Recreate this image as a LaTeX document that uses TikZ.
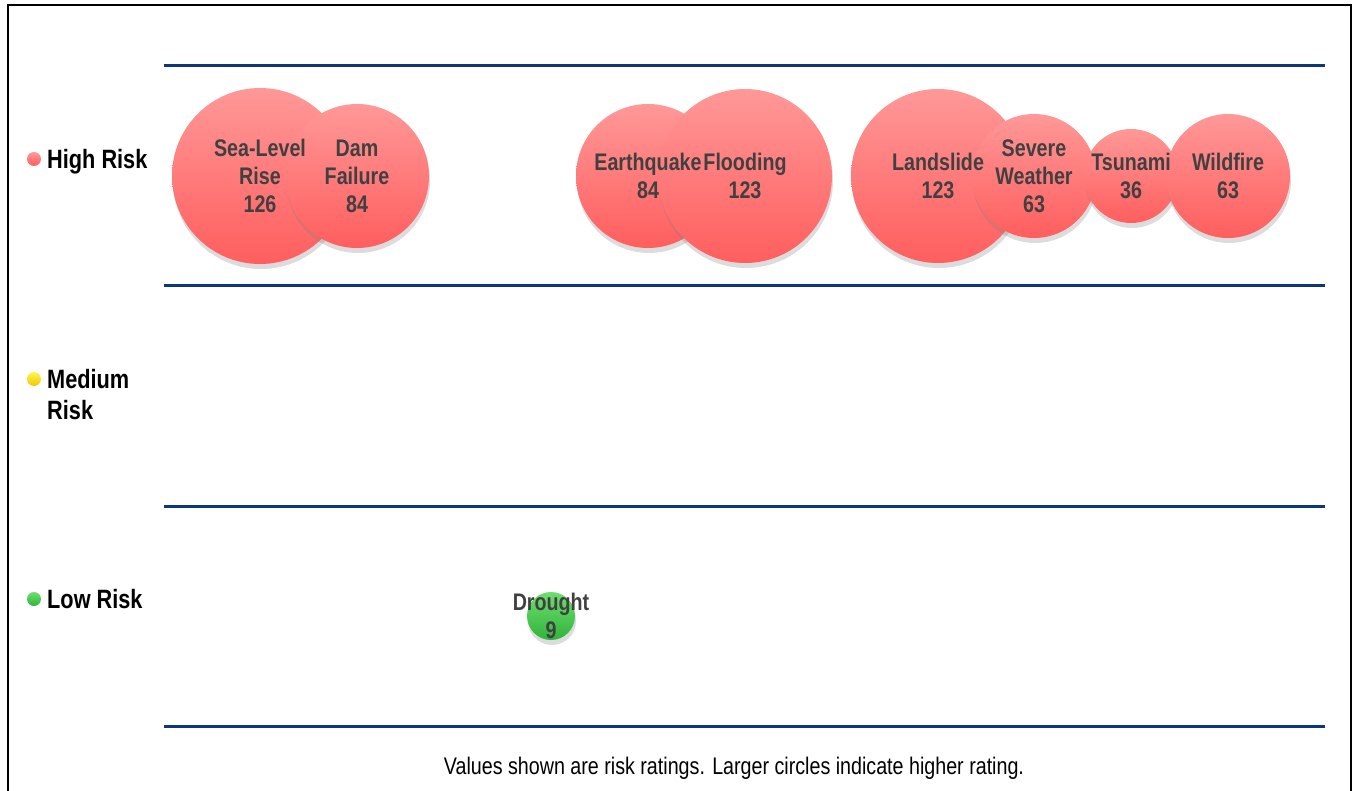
\documentclass[tikz,border=0pt]{standalone}
\usepackage{fontspec}
\setmainfont{Liberation Sans}[FakeStretch=0.82]
\usetikzlibrary{shadows}

\definecolor{bandline}{RGB}{12,56,122}
\definecolor{hightop}{RGB}{255,152,152}
\definecolor{highbot}{RGB}{255,94,94}
\definecolor{lowtop}{RGB}{110,222,110}
\definecolor{lowbot}{RGB}{48,180,60}
\definecolor{medtop}{RGB}{255,245,80}
\definecolor{medbot}{RGB}{240,200,0}
\definecolor{labelgray}{RGB}{64,64,64}

\begin{document}
\begin{tikzpicture}[
    x=1pt, y=-1pt,
    bubble/.style={
        circle,
        draw=none,
        inner sep=0pt,
        top color=hightop,
        bottom color=highbot,
        drop shadow={shadow xshift=1pt, shadow yshift=-5pt, opacity=0.28}
    },
    lowbubble/.style={
        bubble,
        top color=lowtop,
        bottom color=lowbot
    },
    bubtext/.style={
        align=center,
        inner sep=0pt,
        text=labelgray,
        font=\fontsize{24}{28}\selectfont\bfseries
    },
    legdot/.style={
        circle,
        inner sep=0pt,
        minimum size=14pt
    },
    legtext/.style={
        anchor=base west,
        align=left,
        inner sep=0pt,
        font=\fontsize{26.5}{31}\selectfont\bfseries
    },
    band/.style={
        draw=bandline,
        line width=3pt
    }
]
\useasboundingbox (0,0) rectangle (1354,791);

% Frame
\draw[line width=2pt] (8,791) -- (8,5) -- (1351,5) -- (1351,791);

% Band lines
\coordinate (b0l) at (164,66);   \coordinate (b0r) at (1325,66);
\coordinate (b1l) at (164,286);  \coordinate (b1r) at (1325,286);
\coordinate (b2l) at (164,506);  \coordinate (b2r) at (1325,506);
\coordinate (b3l) at (164,726);  \coordinate (b3r) at (1325,726);
\draw[band] (b0l) -- (b0r);
\draw[band] (b1l) -- (b1r);
\draw[band] (b2l) -- (b2r);
\draw[band] (b3l) -- (b3r);

% Legend
\node[legdot, top color=hightop, bottom color=highbot] (highdot) at (34,159) {};
\node[legtext] (highlab) at (47,168.5) {High Risk};
\node[legdot, top color=medtop, bottom color=medbot] (meddot) at (34,379) {};
\node[legtext] (medlab) at (47,419.5) {Medium\\Risk};
\node[legdot, top color=lowtop, bottom color=lowbot] (lowdot) at (34,599) {};
\node[legtext] (lowlab) at (47,608.5) {Low Risk};

% High risk bubbles
\node[bubble, minimum size=176pt] (sealevel) at (260,176) {};
\node[bubble, minimum size=144pt] (dam) at (357,176) {};
\node[bubble, minimum size=144pt] (quake) at (648,176) {};
\node[bubble, minimum size=174pt] (flood) at (745,176) {};
\node[bubble, minimum size=174pt] (landslide) at (938,176) {};
\node[bubble, minimum size=124pt] (weather) at (1034,176) {};
\node[bubble, minimum size=94pt] (tsunami) at (1131,176) {};
\node[bubble, minimum size=124pt] (wildfire) at (1228,176) {};

% Low risk bubbles
\node[lowbubble, minimum size=48pt] (drought) at (551,616) {};

% Bubble labels
\node[bubtext] at (sealevel) {Sea-Level\\Rise\\126};
\node[bubtext] at (dam) {Dam\\Failure\\84};
\node[bubtext] at (quake) {Earthquake\\84};
\node[bubtext] at (flood) {Flooding\\123};
\node[bubtext] at (landslide) {Landslide\\123};
\node[bubtext] at (weather) {Severe\\Weather\\63};
\node[bubtext] at (tsunami) {Tsunami\\36};
\node[bubtext] at (wildfire) {Wildfire\\63};
\node[bubtext] at (drought) {Drought\\9};

% Note
\node[font=\fontsize{24}{28}\selectfont, inner sep=0pt] (note) at (734,768) {Values shown are risk ratings. Larger circles indicate higher rating.};

\end{tikzpicture}
\end{document}
